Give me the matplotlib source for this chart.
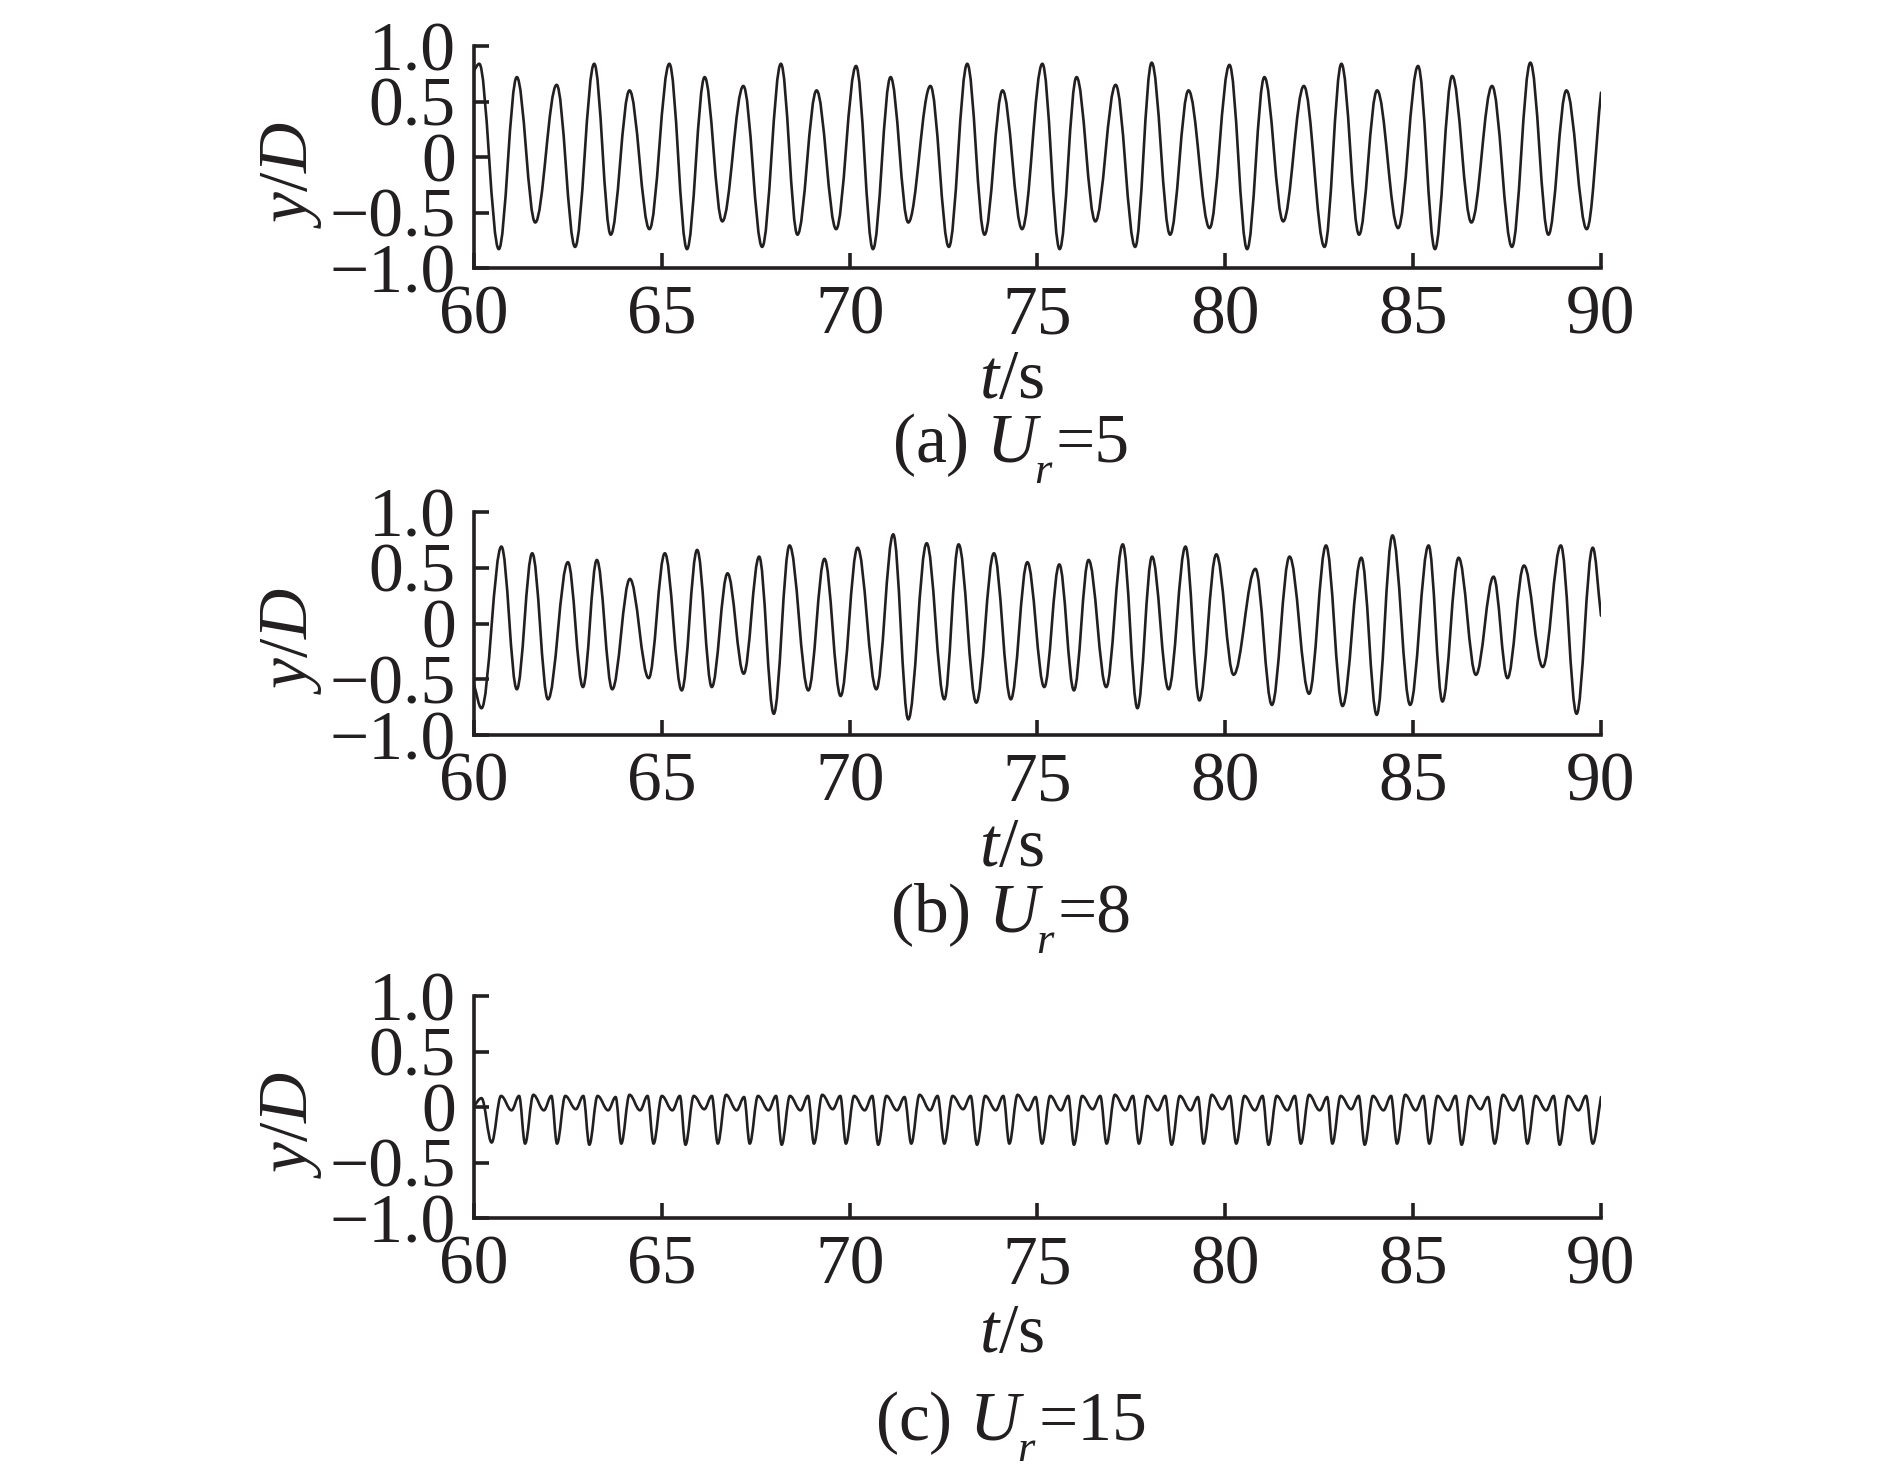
import matplotlib
matplotlib.use("Agg")
import matplotlib.pyplot as plt
from matplotlib.path import Path
from matplotlib.patches import PathPatch

# ---------------- data (extrema) ----------------
a_t = [60.00, 60.14, 60.66, 61.14, 61.63, 62.20, 62.69, 63.20, 63.64, 64.14, 64.67,
       65.20, 65.67, 66.14, 66.61, 67.17, 67.67, 68.17, 68.61, 69.12, 69.64,
       70.17, 70.62, 71.09, 71.56, 72.15, 72.64, 73.13, 73.59, 74.07, 74.59,
       75.13, 75.59, 76.04, 76.54, 77.08, 77.60, 78.04, 78.53, 79.02, 79.58,
       80.11, 80.58, 81.04, 81.54, 82.09, 82.64, 83.09, 83.56, 84.04, 84.60,
       85.13, 85.58, 86.04, 86.55, 87.10, 87.63, 88.12, 88.60, 89.08, 89.62, 90.00]
a_y = [0.78, 0.84, -0.83, 0.72, -0.59, 0.65, -0.81, 0.84, -0.70, 0.60, -0.65,
       0.84, -0.83, 0.72, -0.58, 0.64, -0.81, 0.84, -0.70, 0.60, -0.65,
       0.82, -0.83, 0.72, -0.59, 0.64, -0.81, 0.84, -0.70, 0.60, -0.65,
       0.84, -0.83, 0.72, -0.58, 0.65, -0.81, 0.85, -0.70, 0.60, -0.64,
       0.83, -0.83, 0.72, -0.58, 0.64, -0.81, 0.84, -0.70, 0.60, -0.64,
       0.82, -0.83, 0.73, -0.59, 0.64, -0.81, 0.85, -0.70, 0.60, -0.65, 0.58]

b_t = [60.00, 60.20, 60.73, 61.14, 61.55, 61.97, 62.50, 62.90, 63.27, 63.68,
       64.15, 64.65, 65.08, 65.53, 65.94, 66.33, 66.75, 67.18, 67.59, 67.98,
       68.40, 68.90, 69.33, 69.76, 70.21, 70.71, 71.16, 71.56, 72.05, 72.52,
       72.90, 73.37, 73.84, 74.29, 74.73, 75.18, 75.58, 75.97, 76.36, 76.83,
       77.27, 77.66, 78.05, 78.49, 78.94, 79.31, 79.76, 80.22, 80.80, 81.24,
       81.71, 82.23, 82.68, 83.12, 83.62, 84.03, 84.45, 84.92, 85.41, 85.78,
       86.21, 86.67, 87.14, 87.51, 87.95, 88.45, 88.93, 89.35, 89.78, 90.00]
b_y = [-0.55, -0.76, 0.69, -0.59, 0.63, -0.68, 0.55, -0.57, 0.57, -0.59,
       0.40, -0.49, 0.63, -0.60, 0.66, -0.57, 0.45, -0.45, 0.60, -0.81,
       0.70, -0.60, 0.58, -0.65, 0.68, -0.59, 0.80, -0.86, 0.72, -0.68,
       0.71, -0.71, 0.63, -0.68, 0.55, -0.57, 0.53, -0.60, 0.57, -0.57,
       0.71, -0.76, 0.60, -0.59, 0.69, -0.69, 0.62, -0.46, 0.49, -0.73,
       0.60, -0.63, 0.70, -0.74, 0.59, -0.82, 0.79, -0.73, 0.70, -0.70,
       0.59, -0.46, 0.42, -0.49, 0.52, -0.39, 0.70, -0.81, 0.68, 0.07]

c_t = [60.00, 60.20, 60.47,
       60.72, 61.00, 61.20, 61.36,
       61.58, 61.86, 62.06, 62.21,
       62.43, 62.71, 62.91, 63.07,
       63.29, 63.57, 63.77, 63.92,
       64.14, 64.42, 64.62, 64.78,
       65.00, 65.28, 65.48, 65.63,
       65.85, 66.13, 66.33, 66.49,
       66.71, 66.99, 67.19, 67.34,
       67.56, 67.84, 68.04, 68.19,
       68.41, 68.69, 68.89, 69.05,
       69.27, 69.55, 69.75, 69.90,
       70.12, 70.40, 70.60, 70.76,
       70.98, 71.26, 71.46, 71.64,
       71.86, 72.14, 72.34, 72.52,
       72.74, 73.02, 73.22, 73.39,
       73.61, 73.89, 74.09, 74.25,
       74.47, 74.75, 74.95, 75.12,
       75.34, 75.62, 75.82, 75.97,
       76.19, 76.47, 76.67, 76.84,
       77.06, 77.34, 77.54, 77.70,
       77.92, 78.20, 78.40, 78.57,
       78.79, 79.07, 79.27, 79.42,
       79.64, 79.92, 80.12, 80.29,
       80.51, 80.79, 80.99, 81.15,
       81.37, 81.65, 81.85, 82.01,
       82.23, 82.51, 82.71, 82.85,
       83.07, 83.35, 83.55, 83.71,
       83.93, 84.21, 84.41, 84.57,
       84.79, 85.07, 85.27, 85.43,
       85.65, 85.93, 86.13, 86.29,
       86.51, 86.79, 86.99, 87.17,
       87.39, 87.67, 87.87, 88.04,
       88.26, 88.54, 88.74, 88.90,
       89.12, 89.40, 89.60, 89.78,
       90.00]
c_y = [0.01, 0.08, -0.32,
       0.10, -0.03, 0.10, -0.33,
       0.11, -0.03, 0.10, -0.33,
       0.10, -0.02, 0.10, -0.34,
       0.10, -0.03, 0.09, -0.33,
       0.11, -0.03, 0.10, -0.33,
       0.10, -0.03, 0.10, -0.34,
       0.10, -0.02, 0.10, -0.33,
       0.11, -0.03, 0.09, -0.33,
       0.10, -0.03, 0.10, -0.34,
       0.10, -0.03, 0.10, -0.33,
       0.11, -0.02, 0.10, -0.33,
       0.10, -0.03, 0.10, -0.34,
       0.10, -0.03, 0.09, -0.33,
       0.11, -0.03, 0.10, -0.33,
       0.10, -0.02, 0.10, -0.34,
       0.10, -0.03, 0.10, -0.33,
       0.11, -0.03, 0.09, -0.33,
       0.10, -0.03, 0.10, -0.34,
       0.10, -0.02, 0.10, -0.33,
       0.11, -0.03, 0.10, -0.33,
       0.10, -0.03, 0.10, -0.34,
       0.10, -0.03, 0.09, -0.33,
       0.11, -0.02, 0.10, -0.33,
       0.10, -0.03, 0.10, -0.34,
       0.10, -0.03, 0.10, -0.33,
       0.11, -0.03, 0.09, -0.33,
       0.10, -0.02, 0.10, -0.34,
       0.10, -0.03, 0.10, -0.33,
       0.11, -0.03, 0.10, -0.33,
       0.10, -0.03, 0.10, -0.34,
       0.10, -0.02, 0.09, -0.33,
       0.11, -0.03, 0.10, -0.33,
       0.10, -0.03, 0.10, -0.34,
       0.10, -0.03, 0.10, -0.33,
       0.09]

x_ticks = [60, 65, 70, 75, 80, 85, 90]
x_ticklabels = ["60", "65", "70", "75", "80", "85", "90"]
y_ticks = [1.0, 0.5, 0.0, -0.5, -1.0]
y_ticklabels = ["1.0", "0.5", "0", "\u22120.5", "\u22121.0"]
caption_prefix = ["(a) ", "(b) ", "(c) "]
caption_value = ["=5", "=8", "=15"]
xlabel = "$t$/s"
ylabel = "$y/D$"

# ---------------- style ----------------
plt.rcParams['font.family'] = ['Liberation Serif', 'DejaVu Serif']
plt.rcParams['mathtext.fontset'] = 'custom'
plt.rcParams['mathtext.rm'] = 'Liberation Serif'
plt.rcParams['mathtext.it'] = 'Liberation Serif:italic'
plt.rcParams['mathtext.bf'] = 'Liberation Serif:bold'

INK = '#231f20'
W, H = 1890, 1479
FS = 50
FS_SUB = 32


def smooth_path(ts, ys, k=0.363):
    """Cubic Bezier path through the read extrema (flat tangents at extrema)."""
    n = len(ts)
    slopes = []
    for i in range(n):
        if 0 < i < n - 1:
            if (ys[i] - ys[i - 1]) * (ys[i + 1] - ys[i]) <= 0:
                s = 0.0
            else:
                s = (ys[i + 1] - ys[i - 1]) / (ts[i + 1] - ts[i - 1])
        elif i == 0:
            s = (ys[1] - ys[0]) / (ts[1] - ts[0])
        else:
            s = (ys[-1] - ys[-2]) / (ts[-1] - ts[-2])
        slopes.append(s)
    verts = [(ts[0], ys[0])]
    codes = [Path.MOVETO]
    for i in range(n - 1):
        dt = ts[i + 1] - ts[i]
        verts.append((ts[i] + k * dt, ys[i] + slopes[i] * k * dt))
        verts.append((ts[i + 1] - k * dt, ys[i + 1] - slopes[i + 1] * k * dt))
        verts.append((ts[i + 1], ys[i + 1]))
        codes += [Path.CURVE4] * 3
    return Path(verts, codes)


fig = plt.figure(figsize=(W / 100, H / 100), dpi=100)
renderer = fig.canvas.get_renderer()

# axes boxes in pixel coords (left, top, right, bottom)
boxes = [(474, 46, 1601, 268), (474, 512, 1601, 735), (474, 996, 1601, 1218)]
xlabel_base = [398, 866, 1352]
caption_base = [462, 932, 1440]
series = [(a_t, a_y), (b_t, b_y), (c_t, c_y)]


def caption(xc_px, base_px, prefix, value):
    """'(x) U' + low subscript r + '=N', centred at xc_px."""
    y = 1 - base_px / H
    t1 = fig.text(0, y, prefix + "$U$", ha='left', va='baseline', fontsize=FS, color=INK)
    t2 = fig.text(0, 1 - (base_px + 21) / H, "$r$", ha='left', va='baseline',
                  fontsize=FS_SUB, color=INK)
    t3 = fig.text(0, y, value, ha='left', va='baseline', fontsize=FS, color=INK)
    w1 = t1.get_window_extent(renderer).width
    w2 = t2.get_window_extent(renderer).width
    w3 = t3.get_window_extent(renderer).width
    overlap = 8
    total = w1 - overlap + w2 + 2 + w3
    x0 = xc_px - total / 2
    t1.set_x(x0 / W)
    t2.set_x((x0 + w1 - overlap) / W)
    t3.set_x((x0 + w1 - overlap + w2 + 2) / W)


for i, ((l, t, r, b), (ts, ys)) in enumerate(zip(boxes, series)):
    ax = fig.add_axes([l / W, 1 - b / H, (r - l) / W, (b - t) / H])
    ax.add_patch(PathPatch(smooth_path(ts, ys), fill=False, edgecolor=INK,
                           lw=1.9, joinstyle='round', capstyle='round'))
    ax.set_xlim(60, 90)
    ax.set_ylim(-1.0, 1.0)
    ax.set_xticks(x_ticks)
    ax.set_xticklabels(x_ticklabels)
    ax.set_yticks(y_ticks)
    ax.set_yticklabels(y_ticklabels)
    for side in ('top', 'right'):
        ax.spines[side].set_visible(False)
    for side in ('left', 'bottom'):
        ax.spines[side].set_linewidth(2.6)
        ax.spines[side].set_color(INK)
        ax.spines[side].set_capstyle('projecting')
    ax.tick_params(axis='both', direction='in', length=11, width=2.6,
                   color=INK, labelcolor=INK, labelsize=FS)
    ax.tick_params(axis='x', pad=12)
    ax.tick_params(axis='y', pad=13)
    ax.patch.set_alpha(0)

    yc = (t + b) / 2 + 17
    fig.text(292 / W, 1 - yc / H, ylabel, rotation=90, ha='center', va='center',
             fontsize=FS, color=INK)
    fig.text(1012 / W, 1 - xlabel_base[i] / H, xlabel, ha='center', va='baseline',
             fontsize=FS, color=INK)
    caption(1011, caption_base[i], caption_prefix[i], caption_value[i])

fig.savefig("out.png", dpi=100, facecolor='white')
